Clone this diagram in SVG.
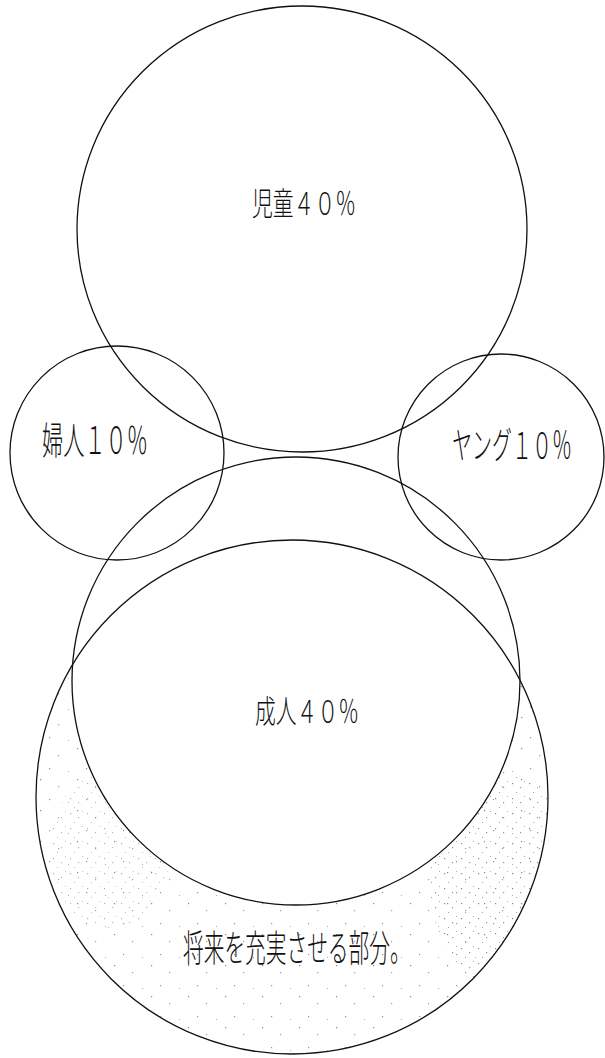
<svg xmlns="http://www.w3.org/2000/svg" width="605" height="1058" viewBox="0 0 605 1058">
<style>
.c{fill:none;stroke:#111;stroke-width:1.3}
.t{font-family:"Noto Sans CJK JP","Noto Sans CJK SC",sans-serif;font-weight:300;fill:#111}
</style>
<defs>
<pattern id="sparse" width="37" height="31" patternUnits="userSpaceOnUse">
<rect x="3" y="4" width="1.2" height="1.2" fill="#555"/>
<rect x="21" y="11" width="1.2" height="1.2" fill="#777"/>
<rect x="12" y="24" width="1.2" height="1.2" fill="#666"/>
<rect x="31" y="27" width="1" height="1" fill="#888"/>
</pattern>
<pattern id="dense" width="17" height="15" patternUnits="userSpaceOnUse">
<rect x="2" y="3" width="1.2" height="1.2" fill="#555"/>
<rect x="10" y="7" width="1.2" height="1.2" fill="#666"/>
<rect x="6" y="12" width="1" height="1" fill="#777"/>
<rect x="14" y="1" width="1" height="1" fill="#888"/>
</pattern>
<mask id="crescent">
<rect width="605" height="1058" fill="black"/>
<ellipse cx="292" cy="797" rx="256" ry="257" fill="white"/>
<circle cx="296" cy="681" r="224" fill="black"/>
</mask>
</defs>
<g id="stipple" mask="url(#crescent)">
<rect x="30" y="540" width="525" height="518" fill="url(#sparse)" opacity="0.7"/>
<ellipse cx="500" cy="880" rx="70" ry="110" fill="url(#dense)" opacity="0.7"/>
<ellipse cx="110" cy="850" rx="60" ry="80" fill="url(#dense)" opacity="0.45"/>
</g>
<g id="node-jido">
<ellipse class="c" cx="302" cy="229" rx="225" ry="223"/>
<text class="t" transform="translate(252,215) scale(1,1.54)" font-size="20.8">児童４０％</text>
</g>
<g id="node-fujin">
<circle class="c" cx="117" cy="453" r="107"/>
<text class="t" transform="translate(42,454) scale(1,1.79)" font-size="21.2">婦人１０％</text>
</g>
<g id="node-young">
<circle class="c" cx="501" cy="457" r="103"/>
<text class="t" transform="translate(452,459) scale(1,1.85)" font-size="20">ヤング１０％</text>
</g>
<g id="node-seijin">
<circle class="c" cx="296" cy="681" r="224"/>
<text class="t" transform="translate(255,723) scale(1,1.54)" font-size="20.8">成人４０％</text>
</g>
<g id="node-future">
<ellipse class="c" cx="292" cy="797" rx="256" ry="257"/>
<text class="t" transform="translate(183,962) scale(1,1.79)" font-size="20.7">将来を充実させる部分。</text>
</g>
<g id="connectors"/>
</svg>
